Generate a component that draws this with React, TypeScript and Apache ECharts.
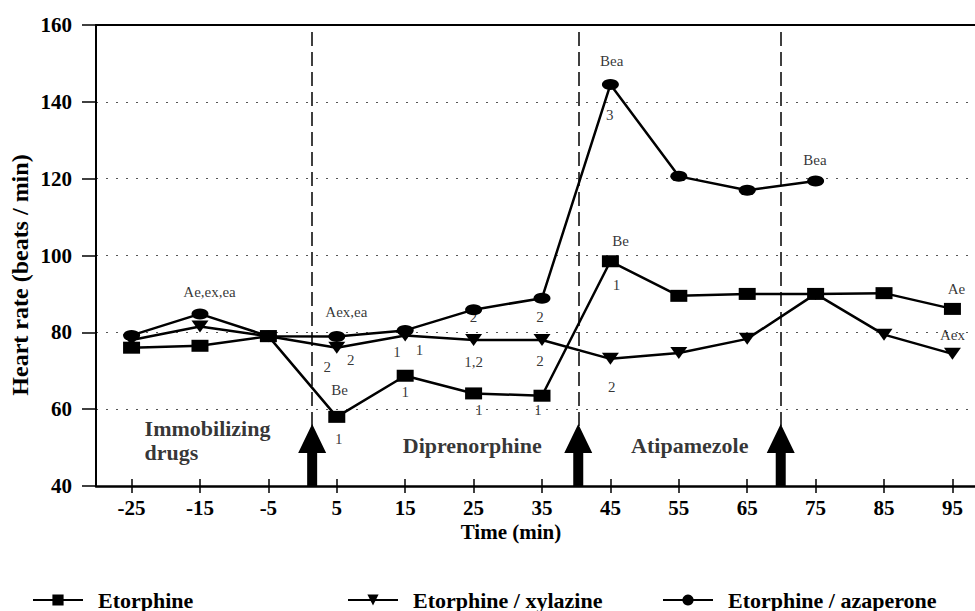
import React, { useEffect, useRef } from 'react';
import * as echarts from 'echarts';

const timePoints = [-25, -15, -5, 5, 15, 25, 35, 45, 55, 65, 75, 85, 95];
const etorphine = [76, 76.5, 79, 58, 68.7, 64.1, 63.5, 98.5, 89.5, 90, 90, 90.2, 86.1];
const etorphineXylazine = [78, 81.5, 79, 76, 79.2, 78, 78, 73.1, 74.6, 78.3, 90, 79.4, 74.4];
const etorphineAzaperone = [79.2, 84.8, 79, 78.9, 80.5, 85.9, 88.9, 144.5, 120.6, 117, 119.4];

const yTicks = [40, 60, 80, 100, 120, 140, 160];
const eventTimes = [1.4, 40.3, 69.9];

const annotations = [
  { x: -13.6, y: 90.4, text: 'Ae,ex,ea' },
  { x: 6.4, y: 85.2, text: 'Aex,ea' },
  { x: 3.6, y: 71.1, text: '2' },
  { x: 7.05, y: 72.8, text: '2' },
  { x: 5.4, y: 65, text: 'Be' },
  { x: 5.3, y: 52.2, text: '1' },
  { x: 13.8, y: 75, text: '1' },
  { x: 17.1, y: 75.3, text: '1' },
  { x: 15, y: 64.4, text: '1' },
  { x: 25, y: 84, text: '2' },
  { x: 25, y: 72.2, text: '1,2' },
  { x: 25.8, y: 59.8, text: '1' },
  { x: 34.7, y: 84, text: '2' },
  { x: 34.7, y: 72.5, text: '2' },
  { x: 34.4, y: 59.8, text: '1' },
  { x: 46.5, y: 103.8, text: 'Be' },
  { x: 45.9, y: 92.2, text: '1' },
  { x: 45.2, y: 65.7, text: '2' },
  { x: 45.2, y: 150.6, text: 'Bea' },
  { x: 44.9, y: 136.5, text: '3' },
  { x: 74.9, y: 124.8, text: 'Bea' },
  { x: 95.6, y: 91.3, text: 'Ae' },
  { x: 95.0, y: 79.2, text: 'Aex' },
];

const phaseLabels = [
  { x: -23.1, y: 51.9, text: 'Immobilizing\ndrugs', pos: 'right' },
  { x: 24.8, y: 50.5, text: 'Diprenorphine', pos: 'inside' },
  { x: 56.6, y: 50.5, text: 'Atipamezole', pos: 'inside' },
];

const seriesNames = ['Etorphine', 'Etorphine / xylazine', 'Etorphine / azaperone'];
const legendLefts = [32, 347, 662];

const FONT = 'Liberation Serif';
const arrowPath = 'path://M14,0L28,29L19,29L19,62L9,62L9,29L0,29Z';

function lineSeries(name: string, values: number[], symbol: string, size: number[], rotate: number, extra: any = {}) {
  return {
    type: 'line',
    name,
    data: values.map((v, i) => [timePoints[i], v]),
    symbol,
    symbolSize: size,
    symbolRotate: rotate,
    showSymbol: true,
    lineStyle: { color: '#000', width: 2.5 },
    itemStyle: { color: '#000' },
    z: 3,
    silent: true,
    ...extra,
  };
}

export default function App() {
  const ref = useRef<HTMLDivElement>(null);
  useEffect(() => {
    document.body.style.margin = '0';
    const chart = echarts.init(ref.current!, null, { renderer: 'svg' });
    const xMin = -30.2;
    const xMax = 98.3;
    const option: any = {
      animation: false,
      backgroundColor: '#fff',
      textStyle: { fontFamily: FONT, color: '#000' },
      grid: { left: 96, right: 0, top: 25, bottom: 125, containLabel: false },
      legend: seriesNames.map((n, i) => ({
        data: [n],
        left: legendLefts[i],
        top: 589,
        padding: 0,
        itemWidth: 50,
        itemHeight: 14,
        textStyle: { fontFamily: FONT, fontWeight: 'bold', fontSize: 22, color: '#000', padding: [0, 0, 0, 10] },
      })),
      xAxis: [
        {
          type: 'value',
          min: xMin,
          max: xMax,
          position: 'bottom',
          axisLine: { show: true, onZero: false, lineStyle: { color: '#000', width: 2.5 } },
          axisTick: { show: true, customValues: timePoints, length: 7, lineStyle: { color: '#000', width: 1.5 } },
          axisLabel: {
            show: true,
            customValues: timePoints,
            margin: 11,
            fontFamily: FONT,
            fontWeight: 'bold',
            fontSize: 21,
            color: '#000',
          },
          splitLine: { show: false },
        },
        {
          type: 'value',
          min: xMin,
          max: xMax,
          position: 'top',
          axisLine: { show: true, onZero: false, lineStyle: { color: '#000', width: 2 } },
          axisTick: { show: false },
          axisLabel: { show: false },
          splitLine: { show: false },
        },
        {
          type: 'value',
          min: xMin,
          max: xMax,
          position: 'bottom',
          axisLine: { show: false, onZero: false },
          axisTick: { show: true, inside: true, customValues: timePoints, length: 7, lineStyle: { color: '#000', width: 1.5 } },
          axisLabel: { show: false },
          splitLine: { show: false },
        },
      ],
      yAxis: {
        type: 'value',
        min: yTicks[0],
        max: yTicks[yTicks.length - 1],
        interval: 20,
        axisLine: { show: true, onZero: false, lineStyle: { color: '#000', width: 2 } },
        axisTick: { show: true, length: 14, lineStyle: { color: '#000', width: 1.5 } },
        axisLabel: { margin: 24, fontFamily: FONT, fontWeight: 'bold', fontSize: 21, color: '#000' },
        splitLine: { show: true, lineStyle: { color: '#555', type: [2, 8], width: 1 } },
      },
      graphic: [
        {
          type: 'text',
          x: 511,
          y: 532,
          style: { text: 'Time (min)', fontFamily: FONT, fontWeight: 'bold', fontSize: 21, fill: '#000', align: 'center', verticalAlign: 'middle' },
        },
        {
          type: 'text',
          x: 20,
          y: 275,
          rotation: Math.PI / 2,
          style: { text: 'Heart rate (beats / min)', fontFamily: FONT, fontWeight: 'bold', fontSize: 24, fill: '#000', align: 'center', verticalAlign: 'middle' },
        },
      ],
      series: [
        lineSeries(seriesNames[0], etorphine, 'rect', [17, 12], 0, {
          markLine: {
            silent: true,
            symbol: ['none', 'none'],
            label: { show: false },
            lineStyle: { color: '#000', type: [14, 6], width: 1.5 },
            data: eventTimes.map((x) => ({ xAxis: x })),
          },
          markPoint: {
            silent: true,
            label: { show: false },
            itemStyle: { color: '#000' },
            data: eventTimes.map((x) => ({
              coord: [x, yTicks[0]],
              symbol: arrowPath,
              symbolSize: [28, 62],
              symbolOffset: [0, '-50%'],
            })),
          },
        }),
        lineSeries(seriesNames[1], etorphineXylazine, 'triangle', [17, 12], 180),
        lineSeries(seriesNames[2], etorphineAzaperone, 'circle', [17, 11], 0),
        {
          type: 'scatter',
          name: 'notes',
          silent: true,
          symbol: 'circle',
          symbolSize: 0,
          itemStyle: { color: '#000' },
          z: 5,
          label: {
            show: true,
            position: 'inside',
            fontFamily: FONT,
            fontSize: 15,
            color: '#000',
            textBorderWidth: 0,
            formatter: (p: any) => p.data.label,
          },
          data: annotations.map((a) => ({ value: [a.x, a.y], label: a.text })),
        },
        {
          type: 'scatter',
          name: 'phases',
          silent: true,
          symbol: 'circle',
          symbolSize: 0,
          itemStyle: { color: '#000' },
          z: 5,
          data: phaseLabels.map((p) => ({
            value: [p.x, p.y],
            label: {
              show: true,
              position: p.pos,
              distance: 0,
              align: p.pos === 'right' ? 'left' : 'center',
              formatter: p.text,
              fontFamily: FONT,
              fontWeight: 'bold',
              fontSize: 22,
              lineHeight: 24,
              color: '#000',
              textBorderWidth: 0,
            },
          })),
        },
      ],
    };
    chart.setOption(option);
    return () => chart.dispose();
  }, []);
  return <div ref={ref} style={{ width: 975, height: 611 }} />;
}
